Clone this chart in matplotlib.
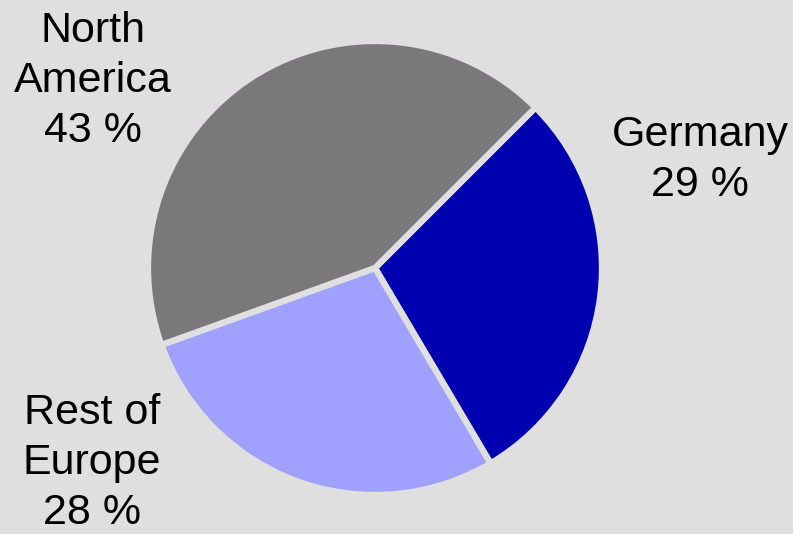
import matplotlib
matplotlib.use("Agg")
import matplotlib.pyplot as plt

# Revenue share by region
regions = ["Germany", "Rest of\nEurope", "North\nAmerica"]
shares = [29, 28, 43]
colors = ["#0000B0", "#A0A0FF", "#7B787C"]
label_pos = [(700, 160), (92, 463), (93, 81)]  # pixel coords from top-left

bg = "#E0DFDF"
W, H = 793, 534

fig = plt.figure(figsize=(W / 100, H / 100), dpi=100, facecolor=bg)
ax = fig.add_axes([0, 0, 1, 1])
ax.set_facecolor(bg)

ax.pie(shares, colors=colors, startangle=45, counterclock=False,
       center=(375, H - 268), radius=227, frame=True,
       wedgeprops=dict(edgecolor=bg, linewidth=4.5))
ax.set_xlim(0, W)
ax.set_ylim(0, H)
ax.set_aspect("equal")
ax.axis("off")

for name, val, (x, y) in zip(regions, shares, label_pos):
    ax.text(x, H - y, f"{name}\n{val} %", ha="center", va="center",
            fontsize=31, family="Liberation Sans", color="black",
            linespacing=1.32)

fig.savefig("out.png", dpi=100, facecolor=bg)
